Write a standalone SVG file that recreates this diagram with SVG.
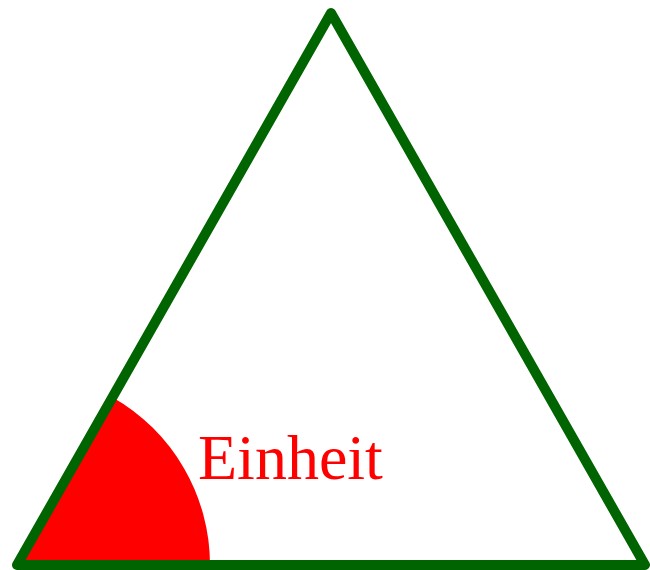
<svg xmlns="http://www.w3.org/2000/svg" width="650" height="570" viewBox="0 0 650 570">
<style>
.tri{fill:none;stroke:#006400;stroke-width:10;stroke-linejoin:round;stroke-linecap:round}
.lbl{font-family:"Liberation Serif","Times New Roman",serif;font-size:64px;fill:#ff0000}
</style>
<rect width="650" height="570" fill="#ffffff"/>
<g id="sector">
<path d="M17,565 L210,565 A193,193 0 0,0 112.4,397.2 Z" fill="#ff0000"/>
</g>
<g id="triangle">
<polygon class="tri" points="17,565 331,13 645,565"/>
</g>
<g id="label">
<text class="lbl" x="198" y="479">Einheit</text>
</g>
</svg>
